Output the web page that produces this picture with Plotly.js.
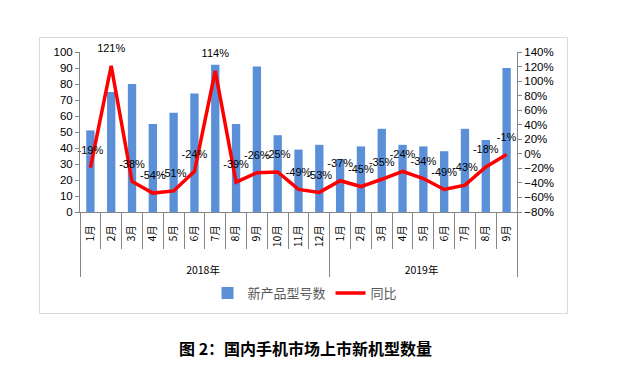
<!DOCTYPE html>
<html>
<head>
<meta charset="utf-8">
<script src="https://cdn.plot.ly/plotly-3.0.1.min.js"></script>
<style>html,body{margin:0;padding:0;background:#fff;}#chart{width:617px;height:374px;}</style>
</head>
<body>
<div id="chart"></div>
<script>
const years = ["2018年","2018年","2018年","2018年","2018年","2018年","2018年","2018年","2018年","2018年","2018年","2018年","2019年","2019年","2019年","2019年","2019年","2019年","2019年","2019年","2019年"];
const months = ["1月","2月","3月","4月","5月","6月","7月","8月","9月","10月","11月","12月","1月","2月","3月","4月","5月","6月","7月","8月","9月"];
const newModels = [51,75,80,55,62,74,92,55,91,48,39,42,33,41,52,42,41,38,52,45,90];
const yoy = [-19,121,-38,-54,-51,-24,114,-39,-26,-25,-49,-53,-37,-45,-35,-24,-34,-49,-43,-18,-1];
const yoyLabels = ["-19%","121%","-38%","-54%","-51%","-24%","114%","-39%","-26%","-25%","-49%","-53%","-37%","-45%","-35%","-24%","-34%","-49%","-43%","-18%","-1%"];
const seriesNames = ["新产品型号数","同比"];
const chartTitle = "图 2：国内手机市场上市新机型数量";

const W = 617, H = 374, L = 80, R = 100, T = 52, B = 162;
const pw = W - L - R, ph = H - T - B;
const px = x => (x - L) / pw;
const py = y => (H - B - y) / ph;

const font = "Liberation Sans, Noto Sans CJK SC, sans-serif";
const cjk = "Noto Sans CJK SC, sans-serif";

// outer level label pushed one line lower, as in the reference
const yearLevel = years.map(y => "<br>" + y);

const traces = [
  {
    type: "bar",
    name: seriesNames[0],
    x: [yearLevel, months],
    y: newModels,
    marker: {color: "#5B8FD8"},
    yaxis: "y"
  },
  {
    type: "scatter",
    mode: "lines+markers+text",
    name: seriesNames[1],
    x: [yearLevel, months],
    y: yoy,
    text: yoyLabels,
    textposition: "top center",
    cliponaxis: false,
    textfont: {family: font, size: 11, color: "#000"},
    line: {color: "#FF0000", width: 3.5},
    marker: {size: 16, color: "rgba(0,0,0,0)"},
    yaxis: "y2"
  }
];

const layout = {
  width: W, height: H,
  margin: {l: L, r: R, t: T, b: B},
  paper_bgcolor: "#fff", plot_bgcolor: "#fff",
  bargap: 0.6,
  showlegend: true,
  legend: {orientation: "h", x: px(305), xanchor: "center", y: py(293), yanchor: "middle",
           font: {family: cjk, size: 13, color: "#595959"}, itemwidth: 30},
  font: {family: font, size: 11, color: "#000"},
  xaxis: {
    type: "multicategory",
    range: [-0.5, 20.5],
    tickangle: -90,
    ticklabelstandoff: 8,
    tickfont: {family: cjk, size: 10.5, color: "#000"},
    showline: true, linecolor: "#868686", linewidth: 1,
    ticks: "outside", tickson: "boundaries", ticklen: 36, tickcolor: "#868686",
    showdividers: true, dividercolor: "#868686", dividerwidth: 1,
    showgrid: false
  },
  yaxis: {
    range: [0, 100], dtick: 10, showgrid: false,
    showline: true, linecolor: "#868686", ticks: "outside", ticklen: 4, tickcolor: "#868686",
    tickfont: {family: font, size: 11.5, color: "#000"}, zeroline: false
  },
  yaxis2: {
    overlaying: "y", side: "right",
    range: [-80, 140], dtick: 20, ticksuffix: "%", showgrid: false,
    showline: true, linecolor: "#868686", ticks: "outside", ticklen: 4, tickcolor: "#868686",
    tickfont: {family: font, size: 11.5, color: "#000"}, zeroline: false
  },
  shapes: [
    {type: "rect", xref: "paper", yref: "paper", x0: px(39.5), x1: px(567.5), y0: py(313.5), y1: py(37.5),
     line: {color: "#D9D9D9", width: 1}, fillcolor: "rgba(0,0,0,0)", layer: "below"}
  ],
  annotations: [
    {xref: "paper", yref: "paper", x: px(305), y: py(348), xanchor: "center", yanchor: "middle",
     text: "<b>" + chartTitle + "</b>", showarrow: false, font: {family: cjk, size: 16, color: "#000"}}
  ]
};

Plotly.newPlot("chart", traces, layout, {displayModeBar: false, staticPlot: true});
</script>
</body>
</html>
